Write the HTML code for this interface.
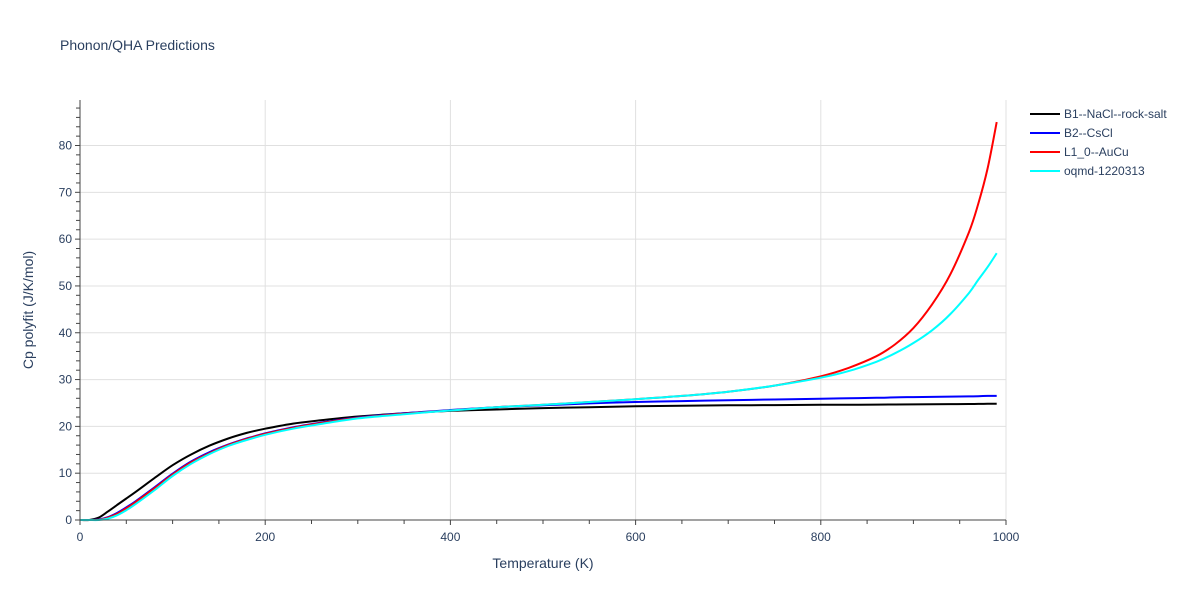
<!DOCTYPE html>
<html><head><meta charset="utf-8"><style>
body{margin:0;background:#fff;font-family:"Liberation Sans",sans-serif}
svg text{font-family:"Liberation Sans",sans-serif;fill:#2a3f5f}
</style></head><body>
<svg id="c" width="1200" height="600" xmlns="http://www.w3.org/2000/svg">
<text x="60" y="50" font-size="14">Phonon/QHA Predictions</text>
<g id="grid"></g>
<g id="series"></g>
<g id="axes"></g>
<text x="543" y="568" font-size="14" text-anchor="middle">Temperature (K)</text>
<text transform="translate(33,310) rotate(-90)" font-size="14" text-anchor="middle">Cp polyfit (J/K/mol)</text>
<g id="legend"></g>
</svg>
<script>
const temps=[0,10,20,30,40,50,60,80,100,120,140,160,180,200,230,260,300,350,400,450,500,550,600,650,700,750,800,830,860,880,900,920,940,960,970,980,990];
const seriesNames=["B1--NaCl--rock-salt","B2--CsCl","L1_0--AuCu","oqmd-1220313"];
const seriesColors=["#000000","#0000ff","#ff0000","#00ffff"];
const cpB1=[0,0,0.5,1.8,3.2,4.6,6.0,8.9,11.7,14.0,15.9,17.4,18.6,19.5,20.6,21.3,22.1,22.8,23.3,23.6,23.9,24.1,24.3,24.4,24.5,24.55,24.6,24.62,24.65,24.68,24.7,24.72,24.75,24.78,24.8,24.82,24.85];
const cpB2=[0,0,0.1,0.6,1.5,2.7,4.0,6.9,9.9,12.5,14.5,16.1,17.4,18.5,19.8,20.8,21.9,22.8,23.5,24.1,24.5,24.9,25.2,25.4,25.6,25.75,25.9,26.0,26.1,26.2,26.25,26.3,26.35,26.4,26.45,26.5,26.5];
const cpL10=[0,0,0.05,0.5,1.3,2.5,3.8,6.7,9.7,12.3,14.3,16.0,17.3,18.4,19.7,20.7,21.8,22.7,23.4,24.1,24.6,25.2,25.8,26.5,27.4,28.7,30.7,32.5,35.0,37.5,41.0,46.0,52.5,61.5,67.5,75.0,85.0];
const cpOqmd=[0,0,0,0.3,1.0,2.1,3.4,6.3,9.4,12.0,14.1,15.8,17.1,18.2,19.5,20.5,21.7,22.6,23.4,24.1,24.6,25.2,25.8,26.5,27.4,28.7,30.4,31.8,33.8,35.6,37.8,40.5,44.0,48.5,51.3,54.0,57.0];
const allSeries=[cpB1,cpB2,cpL10,cpOqmd];
const xTicks=[0,200,400,600,800,1000];
const yTicks=[0,10,20,30,40,50,60,70,80];
const NS="http://www.w3.org/2000/svg";
const X0=80,X1=1006,Y0=520,Y1=145.5;
const xs=v=>X0+(X1-X0)*v/1000;
const ys=v=>Y0-(Y0-Y1)*v/80;
function mk(tag,attrs,parent){const e=document.createElementNS(NS,tag);for(const k in attrs)e.setAttribute(k,attrs[k]);parent.appendChild(e);return e;}
const grid=document.getElementById('grid'),axes=document.getElementById('axes'),ser=document.getElementById('series'),leg=document.getElementById('legend');
xTicks.forEach(t=>{
  if(t>0){const l=mk('line',{x1:xs(t),x2:xs(t),y1:100,y2:Y0,stroke:'#e0e0e0'},grid);
  
  }
  const tx=mk('text',{x:xs(t),y:Y0+21,'font-size':12,'text-anchor':'middle'},axes);tx.textContent=t;
  
  
});
for(let t=0;t<=1000;t+=50){mk('line',{x1:xs(t),x2:xs(t),y1:Y0,y2:Y0+(t%200==0?5:4),stroke:'#444'},axes);}
yTicks.forEach(t=>{
  if(t>0){const l=mk('line',{x1:X0,x2:X1,y1:ys(t),y2:ys(t),stroke:'#e0e0e0'},grid);
  
  }
  const tx=mk('text',{x:X0-8,y:ys(t)+4,'font-size':12,'text-anchor':'end'},axes);tx.textContent=t;
  
  
});
for(let t=0;t<=88;t+=2){mk('line',{x1:X0,x2:X0-(t%10==0?5:4),y1:ys(t),y2:ys(t),stroke:'#444'},axes);}
mk('line',{x1:X0,x2:X0,y1:100,y2:Y0,stroke:'#444'},axes);
mk('line',{x1:X0,x2:X1,y1:Y0,y2:Y0,stroke:'#444'},axes);
function smooth(pts){
  let d='M'+pts[0][0].toFixed(1)+','+pts[0][1].toFixed(1);
  for(let i=0;i<pts.length-1;i++){
    const p0=pts[Math.max(0,i-1)],p1=pts[i],p2=pts[i+1],p3=pts[Math.min(pts.length-1,i+2)];
    const c1=[p1[0]+(p2[0]-p0[0])/6,p1[1]+(p2[1]-p0[1])/6];
    const c2=[p2[0]-(p3[0]-p1[0])/6,p2[1]-(p3[1]-p1[1])/6];
    d+='C'+c1.map(v=>v.toFixed(1)).join(',')+' '+c2.map(v=>v.toFixed(1)).join(',')+' '+p2[0].toFixed(1)+','+p2[1].toFixed(1);
  }
  return d;
}
allSeries.forEach((s,i)=>{
  const d=smooth(s.map((v,j)=>[xs(temps[j]),ys(v)]));
  const p=mk('path',{d:d,fill:'none',stroke:seriesColors[i],'stroke-width':2},ser);
  
  
  const g=mk('g',{},leg);
  
  
  const y=114+i*19;
  mk('line',{x1:1030,x2:1060,y1:y,y2:y,stroke:seriesColors[i],'stroke-width':2},g);
  const tx=mk('text',{x:1064,y:y+4,'font-size':12},g);tx.textContent=seriesNames[i];
});
</script>
</body></html>
